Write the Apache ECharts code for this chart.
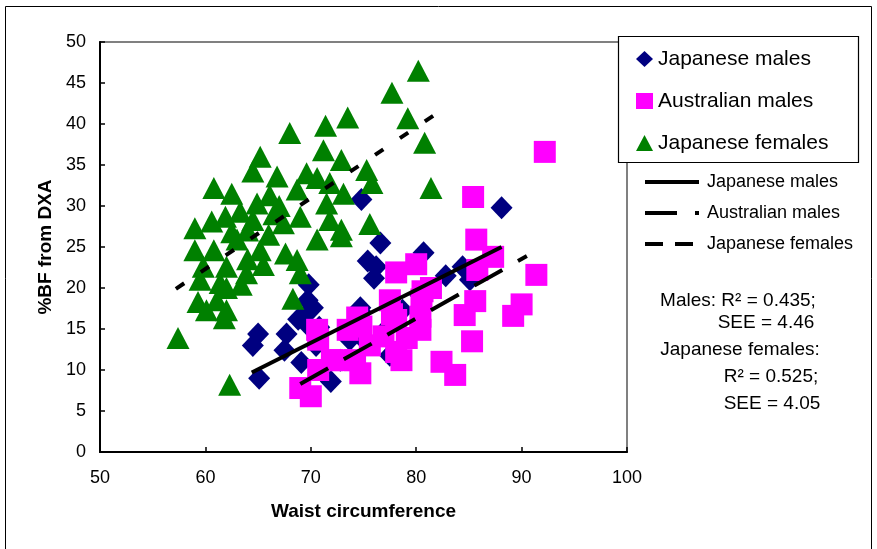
<!DOCTYPE html>
<html><head><meta charset="utf-8">
<script src="https://cdn.jsdelivr.net/npm/echarts@6/dist/echarts.min.js"></script>
<style>html,body{margin:0;padding:0;background:#fff}#c{width:877px;height:549px}</style>
</head><body><div id="c"></div>
<script>
// ---- data ----
const xRange = [50, 100, 10];   // min, max, interval
const yRange = [0, 50, 5];
const seriesNames = ['Japanese males', 'Australian males', 'Japanese females'];
const lineNames = ['JM line', 'AM line', 'JF line'];

const japaneseMales = [
  [88.1,29.8],[74.8,30.8],[80.7,24.3],[76.6,25.5],[75.4,23.3],[76.0,21.2],[76.2,22.6],[82.8,21.5],
  [84.4,22.6],[69.8,20.4],[69.7,18.5],[69.9,17.3],[68.8,16.2],[69.7,15.5],[67.7,14.4],[65.0,14.4],
  [64.5,13.0],[65.1,9.0],[67.5,12.4],[69.1,10.9],[70.5,13.0],[71.9,8.6],[72.8,11.2],[74.8,17.0],
  [77.1,14.9],[77.5,11.8],[74.9,13.9],[80.4,19.1],[78.7,17.3],[70.8,15.2],[73.7,13.7],[74.7,17.6],
  [70.2,17.6],[85.1,21.0]
];
const australianMales = [
  [92.2,36.6],[85.4,31.1],[85.7,25.9],[87.3,23.8],[85.8,22.2],[91.4,21.6],[80.0,22.9],[78.1,21.9],
  [90.0,18.0],[89.2,16.6],[85.6,18.4],[84.6,16.7],[85.3,13.5],[82.4,11.0],[83.7,9.4],[80.5,18.6],
  [80.6,19.6],[80.4,16.5],[80.4,14.9],[79.1,13.9],[78.6,11.2],[77.7,16.8],[77.5,18.5],[78.1,16.1],
  [78.1,12.2],[76.9,14.1],[75.6,13.0],[74.4,16.4],[74.8,15.3],[73.5,14.9],[72.8,11.2],[72.0,11.2],
  [74.7,9.6],[74.2,11.2],[70.7,13.7],[70.6,14.9],[70.7,10.0],[69.0,7.8],[70.0,6.8],[81.4,20.0]
];
const japaneseFemales = [
  [80.2,46.5],[77.7,43.8],[79.2,40.7],[73.5,40.8],[71.4,39.8],[68.0,38.9],[80.8,37.7],[71.2,36.8],
  [65.2,36.0],[72.9,35.6],[81.4,32.2],[64.5,34.2],[66.8,33.6],[69.6,34.0],[70.6,33.4],[75.3,34.4],
  [75.8,32.8],[60.8,32.2],[62.5,31.5],[64.9,30.3],[66.1,31.3],[68.7,32.0],[71.8,32.8],[71.5,30.3],
  [73.1,31.5],[60.6,28.1],[59.0,27.3],[61.9,28.7],[63.3,29.3],[64.5,28.3],[67.4,27.9],[69.0,28.7],
  [71.8,28.3],[72.9,27.1],[75.6,27.8],[70.6,25.9],[72.9,26.3],[59.0,24.6],[60.8,24.6],[63.0,25.9],
  [65.2,24.6],[67.6,24.2],[68.7,23.4],[59.8,22.6],[62.0,22.6],[63.9,21.8],[69.0,21.8],[59.5,21.0],
  [61.4,20.6],[63.4,20.4],[68.3,18.7],[59.3,18.3],[61.1,18.5],[60.1,17.3],[62.0,17.3],[61.8,16.3],
  [57.4,13.9],[62.3,8.2],[64.0,27.0],[66.0,26.5],[62.5,26.8],[65.5,22.8],[64.0,23.5],[67.0,30.0],
  [62.0,20.0],[66.5,29.0]
];
const jmFit = [[64.4,9.7],[88.1,25.0]];
const amFit = [[69.0,8.3],[90.5,23.9]];
const jfFit = [[57.2,19.9],[82.3,41.6]];

const annotations = [
  'Males: R\u00B2 = 0.435;',
  'SEE = 4.46',
  'Japanese females:',
  'R\u00B2 = 0.525;',
  'SEE = 4.05'
];
// ---- chart ----
const FONT = '"Liberation Sans", Arial, sans-serif';
const chart = echarts.init(document.getElementById('c'));
const annPos = [[738,301],[766,323],[740,350],[771,377],[772,404]];
const hiddenSym = { color: 'rgba(0,0,0,0)', borderColor: 'rgba(0,0,0,0)', borderWidth: 0, opacity: 0 };

chart.setOption({
  animation: false,
  backgroundColor: '#fff',
  textStyle: { fontFamily: FONT },
  grid: { left: 100, top: 42, right: 250, bottom: 97, show: true, borderColor: '#808080', borderWidth: 2, backgroundColor: 'transparent' },
  xAxis: {
    type: 'value', min: xRange[0], max: xRange[1], interval: xRange[2],
    name: 'Waist circumference', nameLocation: 'middle', nameGap: 50,
    nameTextStyle: { fontSize: 19, fontWeight: 'bold', color: '#000', fontFamily: FONT },
    axisLine: { lineStyle: { color: '#000', width: 2 } },
    axisTick: { inside: true, length: 5, lineStyle: { color: '#000', width: 1.5 } },
    axisLabel: { fontSize: 18, color: '#000', margin: 17, fontFamily: FONT },
    splitLine: { show: false }
  },
  yAxis: {
    type: 'value', min: yRange[0], max: yRange[1], interval: yRange[2],
    name: '%BF from DXA', nameLocation: 'middle', nameGap: 43,
    nameTextStyle: { fontSize: 19, fontWeight: 'bold', color: '#000', fontFamily: FONT },
    axisLine: { show: true, lineStyle: { color: '#000', width: 2 } },
    axisTick: { show: true, inside: true, length: 5, lineStyle: { color: '#000', width: 1.5 } },
    axisLabel: { fontSize: 18, color: '#000', margin: 14, fontFamily: FONT },
    splitLine: { show: false }
  },
  legend: [
    {
      data: seriesNames, orient: 'vertical', left: 636, top: 48, padding: 0,
      itemWidth: 17, itemHeight: 16, itemGap: 20, z: 10, selectedMode: false,
      textStyle: { fontSize: 21, lineHeight: 22, color: '#000', fontFamily: FONT }
    },
    {
      data: [
        { name: lineNames[0] },
        { name: lineNames[1] },
        { name: lineNames[2], lineStyle: { type: [18, 12] } }
      ],
      orient: 'vertical', left: 643, top: 172, padding: 0,
      itemWidth: 54, itemHeight: 14, itemGap: 11, z: 10, selectedMode: false,
      itemStyle: hiddenSym,
      lineStyle: { width: 4, color: '#000' },
      formatter: function (n) { return seriesNames[lineNames.indexOf(n)]; },
      textStyle: { fontSize: 18, lineHeight: 20, color: '#000', fontFamily: FONT, padding: [0,0,0,3] }
    }
  ],
  graphic: [
    { type: 'rect', z: 0, silent: true, shape: { x: 5.5, y: 6.5, width: 866, height: 600 },
      style: { fill: 'none', stroke: '#000', lineWidth: 1 } },
    { type: 'rect', z: 3, silent: true, shape: { x: 618.5, y: 36.5, width: 240, height: 126 },
      style: { fill: '#fff', stroke: '#000', lineWidth: 1.2 } }
  ].concat(annotations.map(function (t, i) {
    return { type: 'text', z: 5, silent: true, x: annPos[i][0], y: annPos[i][1],
      style: { text: t, fontSize: 19, fontFamily: FONT, fill: '#000', align: 'center', verticalAlign: 'middle' } };
  })),
  series: [
    { name: seriesNames[0], type: 'scatter', data: japaneseMales, symbol: 'diamond', symbolSize: [22, 23],
      itemStyle: { color: '#000080', opacity: 1 }, z: 2 },
    { name: seriesNames[1], type: 'scatter', data: australianMales, symbol: 'rect', symbolSize: 22,
      itemStyle: { color: '#ff00ff', opacity: 1 }, z: 2 },
    { name: seriesNames[2], type: 'scatter', data: japaneseFemales, symbol: 'triangle', symbolSize: [23, 22],
      itemStyle: { color: '#008000', opacity: 1 }, z: 2 },
    { name: lineNames[0], type: 'line', data: jmFit, symbol: 'none', z: 5,
      lineStyle: { color: '#000', width: 4, type: 'solid' }, itemStyle: { color: '#000' } },
    { name: lineNames[1], type: 'line', data: amFit, symbol: 'none', z: 5,
      lineStyle: { color: '#000', width: 4, type: [32, 18] }, itemStyle: { color: '#000' } },
    { name: lineNames[2], type: 'line', data: jfFit, symbol: 'none', z: 5,
      lineStyle: { color: '#000', width: 4, type: [10, 20] }, itemStyle: { color: '#000' } }
  ]
});
</script>
</body></html>
